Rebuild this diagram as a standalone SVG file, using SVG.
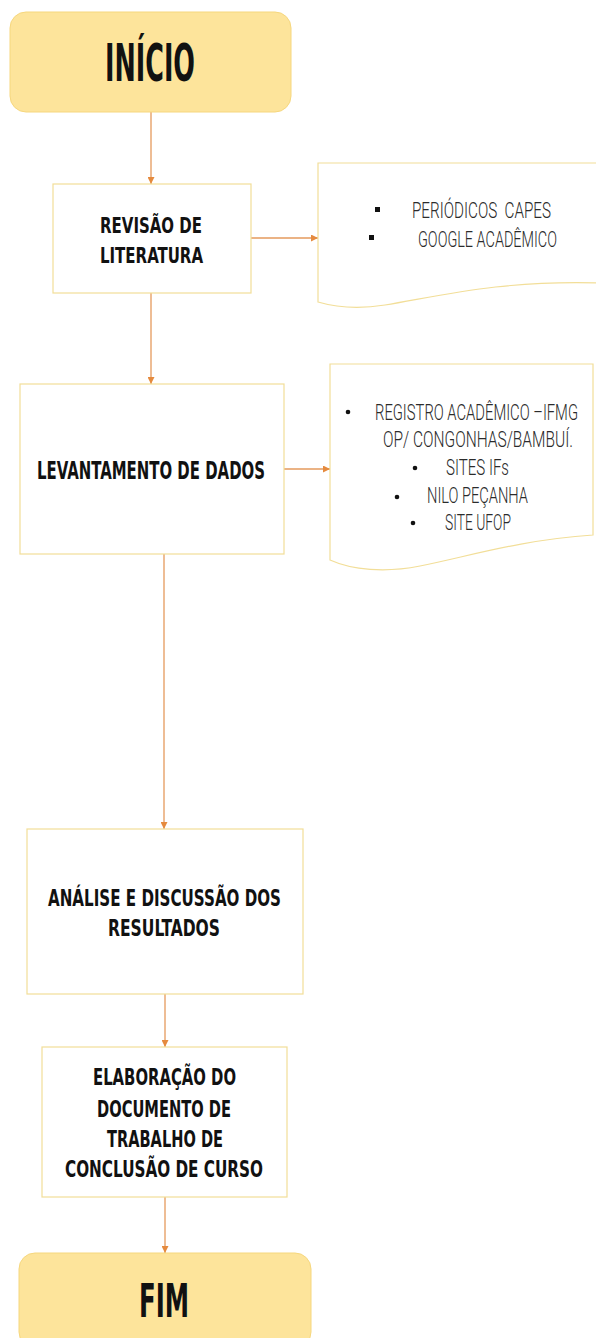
<svg xmlns="http://www.w3.org/2000/svg" width="596" height="1338" viewBox="0 0 596 1338">
<style>
.term{fill:#FDE49B;stroke:#F6D77E;stroke-width:1}
.box{fill:#FFFFFF;stroke:#F2DE98;stroke-width:1.2}
.doc{fill:#FFFFFF;stroke:#F2DE98;stroke-width:1.2}
.bt{font-family:"DejaVu Sans Condensed","DejaVu Sans",sans-serif;font-weight:bold;fill:#111111}
.lt{font-family:Roboto,"DejaVu Sans Condensed",sans-serif;font-weight:300;fill:#2B2B2B;font-size:15px;white-space:pre}
.conn{stroke:#E59A5C;stroke-width:1.3;fill:none;marker-end:url(#ah)}
</style>
<defs>
<marker id="ah" viewBox="0 0 10 10" refX="10" refY="5" markerWidth="7" markerHeight="7" markerUnits="userSpaceOnUse" orient="auto">
<path d="M0,0 L10,5 L0,10 Z" fill="#E58A3E"/>
</marker>
</defs>
<rect width="596" height="1338" fill="#FFFFFF"/>
<g id="connectors">
<line class="conn" x1="151" y1="112" x2="151" y2="184"/>
<line class="conn" x1="251" y1="238" x2="318" y2="238"/>
<line class="conn" x1="151" y1="293" x2="151" y2="384"/>
<line class="conn" x1="284" y1="469" x2="330" y2="469"/>
<line class="conn" x1="164" y1="554" x2="164" y2="829"/>
<line class="conn" x1="165" y1="994" x2="165" y2="1047"/>
<line class="conn" x1="165" y1="1197" x2="165" y2="1253"/>
</g>
<g id="inicio">
<rect class="term" x="10" y="12" width="281" height="100" rx="16"/>
<text class="bt" x="105" y="81" font-size="52" textLength="90" lengthAdjust="spacingAndGlyphs">INÍCIO</text>
</g>
<g id="revisao">
<rect class="box" x="53" y="184" width="198" height="109"/>
<text class="bt" x="100" y="233" font-size="22" textLength="102" lengthAdjust="spacingAndGlyphs">REVISÃO DE</text>
<text class="bt" x="100" y="263" font-size="22" textLength="103" lengthAdjust="spacingAndGlyphs">LITERATURA</text>
</g>
<g id="fontes1">
<path class="doc" d="M318,163 H600 V283 C 500,280 440,296 385,305 C 355,310 335,307 318,302 Z"/>
<rect x="375" y="207" width="5" height="5" fill="#111111"/>
<rect x="369" y="235" width="5" height="5" fill="#111111"/>
<text class="lt" transform="translate(412,218) scale(1,1.42)" textLength="139" lengthAdjust="spacingAndGlyphs">PERIÓDICOS  CAPES</text>
<text class="lt" transform="translate(418,247) scale(1,1.42)" textLength="139" lengthAdjust="spacingAndGlyphs">GOOGLE ACADÊMICO</text>
</g>
<g id="levantamento">
<rect class="box" x="20" y="384" width="264" height="170"/>
<text class="bt" x="37" y="479" font-size="24" textLength="228" lengthAdjust="spacingAndGlyphs">LEVANTAMENTO DE DADOS</text>
</g>
<g id="fontes2">
<path class="doc" d="M330,364 H593 V535 C 520,540 470,556 420,566 C 385,573 352,570 330,560 Z"/>
<circle cx="348" cy="412" r="2.3" fill="#111111"/>
<circle cx="415" cy="468" r="2.3" fill="#111111"/>
<circle cx="397" cy="497" r="2.3" fill="#111111"/>
<circle cx="413" cy="523" r="2.3" fill="#111111"/>
<text class="lt" transform="translate(375,420) scale(1,1.42)" textLength="203" lengthAdjust="spacingAndGlyphs">REGISTRO ACADÊMICO –IFMG</text>
<text class="lt" transform="translate(383,447) scale(1,1.42)" textLength="190" lengthAdjust="spacingAndGlyphs">OP/ CONGONHAS/BAMBUÍ.</text>
<text class="lt" transform="translate(446,475) scale(1,1.42)" textLength="63" lengthAdjust="spacingAndGlyphs">SITES IFs</text>
<text class="lt" transform="translate(427,503) scale(1,1.42)" textLength="101" lengthAdjust="spacingAndGlyphs">NILO PEÇANHA</text>
<text class="lt" transform="translate(445,530) scale(1,1.42)" textLength="66" lengthAdjust="spacingAndGlyphs">SITE UFOP</text>
</g>
<g id="analise">
<rect class="box" x="27" y="829" width="276" height="165"/>
<text class="bt" x="48" y="906" font-size="23" textLength="233" lengthAdjust="spacingAndGlyphs">ANÁLISE E DISCUSSÃO DOS</text>
<text class="bt" x="108" y="936" font-size="23" textLength="112" lengthAdjust="spacingAndGlyphs">RESULTADOS</text>
</g>
<g id="elaboracao">
<rect class="box" x="42" y="1047" width="245" height="150"/>
<text class="bt" x="93" y="1085" font-size="23" textLength="143" lengthAdjust="spacingAndGlyphs">ELABORAÇÃO DO</text>
<text class="bt" x="97" y="1117" font-size="23" textLength="134" lengthAdjust="spacingAndGlyphs">DOCUMENTO DE</text>
<text class="bt" x="107" y="1147" font-size="23" textLength="116" lengthAdjust="spacingAndGlyphs">TRABALHO DE</text>
<text class="bt" x="65" y="1177" font-size="23" textLength="198" lengthAdjust="spacingAndGlyphs">CONCLUSÃO DE CURSO</text>
</g>
<g id="fim">
<rect class="term" x="19" y="1253" width="292" height="95" rx="16"/>
<text class="bt" x="139" y="1317" font-size="47" textLength="50" lengthAdjust="spacingAndGlyphs">FIM</text>
</g>
</svg>
